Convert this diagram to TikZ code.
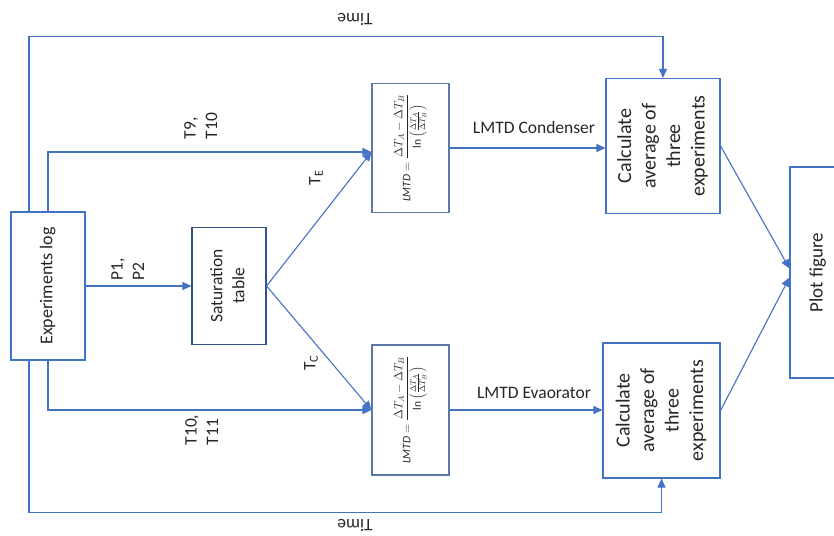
\documentclass[tikz,border=0pt]{standalone}
\usepackage{fontspec}
\usepackage{graphicx}
\setmainfont{Carlito}
\usetikzlibrary{arrows.meta,calc}
\definecolor{lineblue}{HTML}{4472C4}
\definecolor{darkblue}{HTML}{2F528F}
\definecolor{grayblue}{HTML}{5A78A8}
\definecolor{txt}{HTML}{262626}
\tikzset{
  arr/.style={draw=lineblue, line width=1.1pt, -{Triangle[length=9pt,width=8pt]}},
  ln/.style={draw=lineblue, line width=1.1pt},
  box/.style={draw=lineblue, line width=1.1pt, fill=white, inner sep=0pt, text=txt},
  lbl/.style={text=txt, inner sep=0pt, font=\fontsize{17.5}{21.5}\selectfont}
}
\newcommand{\rot}[1]{\rotatebox{90}{\begin{tabular}{@{}c@{}}#1\end{tabular}}}
\newcommand{\rotl}[1]{\rotatebox{90}{\begin{tabular}{@{}l@{}}#1\end{tabular}}}
\newcommand{\lmtdformula}{\rotatebox{90}{\fontsize{11.5}{13.5}\selectfont$\displaystyle \mathit{LMTD}=\frac{\Delta T_A-\Delta T_B}{\ln\left(\frac{\Delta T_A}{\Delta T_B}\right)}$}}
\begin{document}
\begin{tikzpicture}[x=1pt,y=-1pt]
\useasboundingbox (0,0) rectangle (834,535);
% boxes
\node[box, minimum width=74pt, minimum height=148pt] (exp) at (48,286)
  {\fontsize{18}{22}\selectfont\rot{Experiments log}};
\node[box, draw=darkblue, minimum width=74pt, minimum height=117pt] (sat) at (229,286)
  {\fontsize{17.5}{22}\selectfont\rot{Saturation\\table}};
\node[box, draw=grayblue, minimum width=77pt, minimum height=129pt] (lmtdT) at (410.5,148) {\lmtdformula};
\node[box, draw=grayblue, minimum width=77pt, minimum height=130pt] (lmtdB) at (410.5,410) {\lmtdformula};
\node[box, minimum width=114pt, minimum height=135pt] (calcT) at (663,146)
  {\fontsize{20}{24.5}\selectfont\rot{Calculate\\average of\\three\\experiments}};
\node[box, minimum width=117pt, minimum height=135pt] (calcB) at (661.5,410.5)
  {\fontsize{20}{24.5}\selectfont\rot{Calculate\\average of\\three\\experiments}};
\node[box, minimum width=56pt, minimum height=211pt] (plot) at (818,272.5)
  {\fontsize{19}{23}\selectfont\rot{Plot figure}};
% connectors
\draw[arr] (exp.east) -- (sat.west);
\draw[arr] (sat.east) -- ($(lmtdT.west)+(0,4)$);
\draw[arr] (sat.east) -- (lmtdB.west);
\draw[arr] (exp.north) |- ($(lmtdT.west)+(0,4)$);
\draw[arr] (exp.south) |- (lmtdB.west);
\draw[arr] ($(exp.north)+(-19,0)$) -- ++(0,-175) -| (calcT.north);
\draw[arr] ($(exp.south)+(-19,0)$) -- ++(0,152) -| (calcB.south);
\draw[arr] (lmtdT.east) -- (lmtdT.east -| calcT.west);
\draw[arr] (lmtdB.east) -- (lmtdB.east -| calcB.west);
\draw[arr] (calcT.east) -- ($(plot.west)+(0,-4)$);
\draw[arr] (calcB.east) -- ($(plot.west)+(0,5)$);
% labels
\node[lbl] (lp) at (129,269) {\rotl{P1,\\P2}};
\node[lbl] (lt9) at (202,126) {\rotl{T9,\\T10}};
\node[lbl] (lt10) at (203,430) {\rotl{T10,\\T11}};
\node[lbl] (lte) at (316,178) {\rotatebox{90}{T\textsubscript{E}}};
\node[lbl] (ltc) at (311,363) {\rotatebox{90}{T\textsubscript{C}}};
\node[lbl] (lcond) at (534,127) {LMTD Condenser};
\node[lbl] (levap) at (534,393) {LMTD Evaorator};
\node[lbl, rotate=180] (time1) at (355,19) {Time};
\node[lbl, rotate=180] (time2) at (355,525) {Time};
\end{tikzpicture}
\end{document}
